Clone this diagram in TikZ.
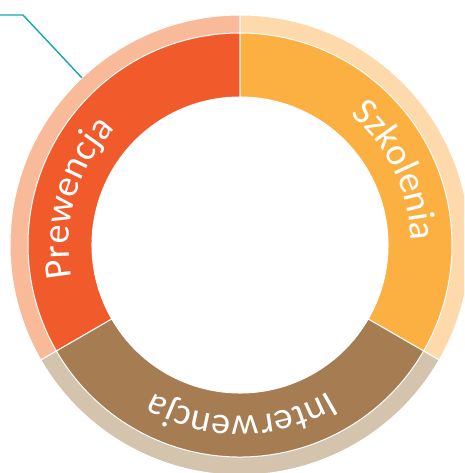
\documentclass[tikz,border=0pt]{standalone}
\usepackage{fontspec}
\setmainfont{Carlito}
\usetikzlibrary{decorations.text,calc}
\definecolor{prew}{HTML}{F15A2B}
\definecolor{prewL}{HTML}{F9BA9A}
\definecolor{szko}{HTML}{FBB041}
\definecolor{szkoL}{HTML}{FDD9AC}
\definecolor{inte}{HTML}{A67C52}
\definecolor{inteL}{HTML}{D5C4AD}
\definecolor{leader}{HTML}{17A3B4}
\newcommand{\ringfont}{\fontsize{38}{40}\selectfont\color{white}}
\begin{document}
\begin{tikzpicture}[x=1pt,y=1pt,
  sep/.style={draw=white,line width=1pt},
  leadline/.style={draw=leader,line width=1.4pt},
  ringtext/.style={decorate,decoration={text along path,text align=center,text={|\ringfont|#1}}}]
\useasboundingbox (0,0) rectangle (464,473);
\clip (0,0) rectangle (464,473);
\coordinate (C) at (240,228);
% outer light ring
\filldraw[sep,fill=prewL] (C) -- ($(C)+(90:230)$) arc[start angle=90,end angle=210,radius=230] -- cycle;
\filldraw[sep,fill=szkoL] (C) -- ($(C)+(90:230)$) arc[start angle=90,end angle=-30,radius=230] -- cycle;
\filldraw[sep,fill=inteL] (C) -- ($(C)+(-30:230)$) arc[start angle=-30,end angle=-150,radius=230] -- cycle;
% coloured ring
\filldraw[sep,fill=prew] ($(C)+(90:148)$) -- ($(C)+(90:212)$) arc[start angle=90,end angle=210,radius=212] -- ($(C)+(210:148)$) arc[start angle=210,end angle=90,radius=148] -- cycle;
\filldraw[sep,fill=szko] ($(C)+(90:148)$) -- ($(C)+(90:212)$) arc[start angle=90,end angle=-30,radius=212] -- ($(C)+(-30:148)$) arc[start angle=-30,end angle=90,radius=148] -- cycle;
\filldraw[sep,fill=inte] ($(C)+(-30:148)$) -- ($(C)+(-30:212)$) arc[start angle=-30,end angle=-150,radius=212] -- ($(C)+(-150:148)$) arc[start angle=-150,end angle=-30,radius=148] -- cycle;
\fill[white] (C) circle[radius=148];
% labels
\path[ringtext=Prewencja] ($(C)+(199:171)$) arc[start angle=199,end angle=129,radius=171];
\path[ringtext=Szkolenia] ($(C)+(60:171)$) arc[start angle=60,end angle=-9,radius=171];
\path[ringtext=Interwencja] ($(C)+(-52:171)$) arc[start angle=-52,end angle=-127,radius=171];
% leader line
\coordinate (tip) at (0,458);
\coordinate (bend) at (23,458);
\coordinate (lead) at ($(C)+(133.4:230)$);
\draw[leadline] (tip) -- (bend) -- (lead);
\end{tikzpicture}
\end{document}
